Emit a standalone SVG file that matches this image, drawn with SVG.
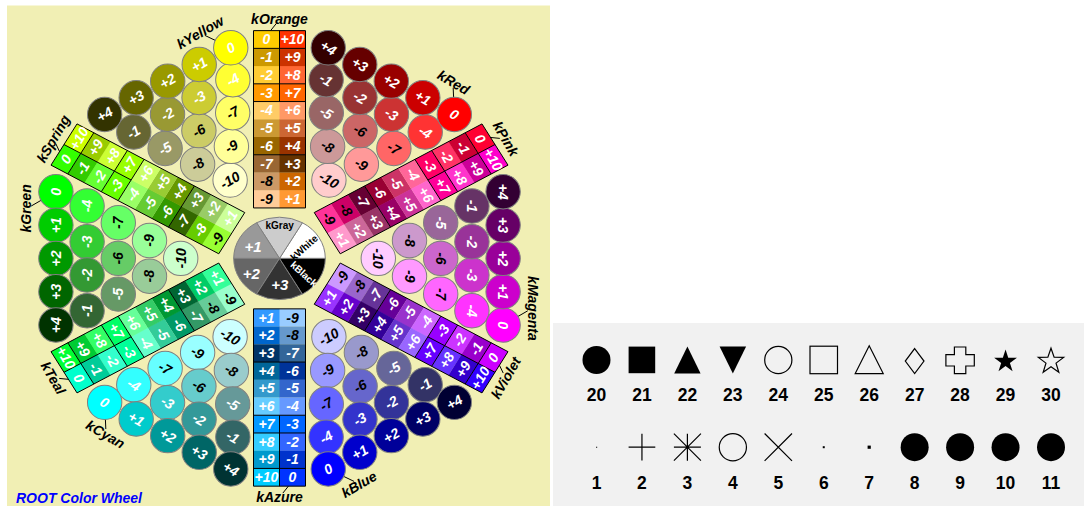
<svg xmlns="http://www.w3.org/2000/svg" width="1089" height="506" viewBox="0 0 1089 506">
<style>
.t{font-family:'Liberation Sans',Arial,Helvetica,sans-serif;font-weight:bold;font-style:italic;font-size:14px;text-anchor:middle;fill:#000}
text.w{fill:#fff}
.fam circle{stroke:#808080;stroke-width:1}
.ns{vector-effect:non-scaling-stroke;stroke:#000;stroke-width:1;fill:none}
.gs{stroke:#808080;stroke-width:1}
.gt{font-family:'Liberation Sans',Arial,sans-serif;font-weight:bold;font-size:10px;text-anchor:middle;fill:#000}
.lab{font-family:'Liberation Sans',Arial,sans-serif;font-weight:bold;font-size:17.5px;text-anchor:middle;fill:#000}
.mk{fill:none;stroke:#000;stroke-width:1.2}
</style>
<rect x="7" y="5.5" width="543" height="500.5" fill="#f1efb4"/>
<rect x="553" y="323" width="531" height="183" fill="#f1f1f1"/>

<g id="connectors">
<line class="ns" transform="translate(279.5,258.4) scale(26,23.8)" x1="8.6" y1="2.8" x2="9.55" y2="2.2"/>
<line class="ns" transform="translate(279.5,258.4) scale(26,23.8) rotate(30)" x1="9.57" y1="-.342" x2="9.86" y2="-.13"/>
<line class="ns" transform="translate(279.5,258.4) scale(26,23.8) rotate(60)" x1="8.6" y1="2.8" x2="9.55" y2="2.2"/>
<line class="ns" transform="translate(279.5,258.4) scale(26,23.8) rotate(90)" x1="9.57" y1="-.342" x2="9.86" y2="-.13"/>
<line class="ns" transform="translate(279.5,258.4) scale(26,23.8) rotate(120)" x1="8.6" y1="2.8" x2="9.55" y2="2.2"/>
<line class="ns" transform="translate(279.5,258.4) scale(26,23.8) rotate(150)" x1="9.57" y1="-.342" x2="9.86" y2="-.13"/>
<line class="ns" transform="translate(279.5,258.4) scale(26,23.8) rotate(180)" x1="8.6" y1="2.8" x2="9.55" y2="2.2"/>
<line class="ns" transform="translate(279.5,258.4) scale(26,23.8) rotate(-150)" x1="9.57" y1="-.342" x2="9.86" y2="-.13"/>
<line class="ns" transform="translate(279.5,258.4) scale(26,23.8) rotate(-120)" x1="8.6" y1="2.8" x2="9.55" y2="2.2"/>
<line class="ns" transform="translate(279.5,258.4) scale(26,23.8) rotate(-90)" x1="9.57" y1="-.342" x2="9.86" y2="-.13"/>
<line class="ns" transform="translate(279.5,258.4) scale(26,23.8) rotate(-60)" x1="8.6" y1="2.8" x2="9.55" y2="2.2"/>
<line class="ns" transform="translate(279.5,258.4) scale(26,23.8) rotate(-30)" x1="9.57" y1="-.342" x2="9.86" y2="-.13"/>
</g>

<g id="kGray" transform="translate(279.5,258.4)">
<path class="gs" d="M0,0L45.8,0A45.8,41.2 0 0 0 22.9,-35.68Z" fill="#ffffff"/>
<path class="gs" d="M0,0L22.9,-35.68A45.8,41.2 0 0 0 -22.9,-35.68Z" fill="#cccccc"/>
<path class="gs" d="M0,0L-22.9,-35.68A45.8,41.2 0 0 0 -45.8,0Z" fill="#999999"/>
<path class="gs" d="M0,0L-45.8,0A45.8,41.2 0 0 0 -22.9,35.68Z" fill="#666666"/>
<path class="gs" d="M0,0L-22.9,35.68A45.8,41.2 0 0 0 22.9,35.68Z" fill="#333333"/>
<path class="gs" d="M0,0L22.9,35.68A45.8,41.2 0 0 0 45.8,0Z" fill="#000000"/>
<text class="gt" x="0.2" y="-33.4" dy=".35em">kGray</text>
<text class="gt" transform="translate(24.5,-10.7) rotate(-42)" dy=".35em">kWhite</text>
<text class="gt" transform="translate(24.5,15.6) rotate(42)" dy=".35em" style="fill:#fff">kBlack</text>
<text class="t w" x="-26.5" y="-11.7" dy=".35em" style="font-size:15px">+1</text>
<text class="t w" x="-28.2" y="14.9" dy=".35em" style="font-size:15px">+2</text>
<text class="t w" x="0.2" y="26.6" dy=".35em" style="font-size:15px">+3</text>
</g>

<g id="kMagenta" class="fam" transform="translate(279.5,258.4) scale(26,23.8)">
<text class="t" transform="translate(9.75,2.1) scale(.038462,.042017) rotate(90)" dy=".35em">kMagenta</text>
<g transform="translate(3.8,0) scale(.038462,.042017)"><circle r="17.2" fill="#ffccff"/><text class="t" transform="rotate(90)" dy=".35em">-10</text></g>
<g transform="translate(5,.75) scale(.038462,.042017)"><circle r="17.2" fill="#ff99ff"/><text class="t" transform="rotate(90)" dy=".35em">-9</text></g>
<g transform="translate(5,-.75) scale(.038462,.042017)"><circle r="17.2" fill="#cc99cc"/><text class="t" transform="rotate(90)" dy=".35em">-8</text></g>
<g transform="translate(6.2,1.5) scale(.038462,.042017)"><circle r="17.2" fill="#ff66ff"/><text class="t" transform="rotate(90)" dy=".35em">-7</text></g>
<g transform="translate(6.2,0) scale(.038462,.042017)"><circle r="17.2" fill="#cc66cc"/><text class="t" transform="rotate(90)" dy=".35em">-6</text></g>
<g transform="translate(6.2,-1.5) scale(.038462,.042017)"><circle r="17.2" fill="#996699"/><text class="t w" transform="rotate(90)" dy=".35em">-5</text></g>
<g transform="translate(7.4,2.2) scale(.038462,.042017)"><circle r="17.2" fill="#ff33ff"/><text class="t w" transform="rotate(90)" dy=".35em">-4</text></g>
<g transform="translate(7.4,.7) scale(.038462,.042017)"><circle r="17.2" fill="#cc33cc"/><text class="t w" transform="rotate(90)" dy=".35em">-3</text></g>
<g transform="translate(7.4,-.7) scale(.038462,.042017)"><circle r="17.2" fill="#993399"/><text class="t w" transform="rotate(90)" dy=".35em">-2</text></g>
<g transform="translate(7.4,-2.2) scale(.038462,.042017)"><circle r="17.2" fill="#663366"/><text class="t w" transform="rotate(90)" dy=".35em">-1</text></g>
<g transform="translate(8.6,2.8) scale(.038462,.042017)"><circle r="17.2" fill="#ff00ff"/><text class="t w" transform="rotate(90)" dy=".35em">0</text></g>
<g transform="translate(8.6,1.4) scale(.038462,.042017)"><circle r="17.2" fill="#cc00cc"/><text class="t w" transform="rotate(90)" dy=".35em">+1</text></g>
<g transform="translate(8.6,0) scale(.038462,.042017)"><circle r="17.2" fill="#990099"/><text class="t w" transform="rotate(90)" dy=".35em">+2</text></g>
<g transform="translate(8.6,-1.4) scale(.038462,.042017)"><circle r="17.2" fill="#660066"/><text class="t w" transform="rotate(90)" dy=".35em">+3</text></g>
<g transform="translate(8.6,-2.8) scale(.038462,.042017)"><circle r="17.2" fill="#330033"/><text class="t w" transform="rotate(90)" dy=".35em">+4</text></g>
</g>

<g id="kViolet" class="fam" transform="translate(279.5,258.4) scale(26,23.8) rotate(30)">
<text class="t" transform="translate(10.05,0) rotate(-30) scale(.038462,.042017) rotate(-60)" dy=".35em">kViolet</text>
<rect x="2.12" y="-1" width=".75" height="1.02" fill="#cc99ff"/>
<rect x="2.865" y="-1" width=".75" height="1.02" fill="#9966cc"/>
<rect x="3.61" y="-1" width=".75" height="1.02" fill="#663399"/>
<rect x="4.355" y="-1" width=".75" height="1.02" fill="#660099"/>
<rect x="5.1" y="-1" width=".75" height="1.02" fill="#9933cc"/>
<rect x="5.845" y="-1" width=".75" height="1.02" fill="#cc66ff"/>
<rect x="6.59" y="-1" width=".75" height="1.02" fill="#9900ff"/>
<rect x="7.335" y="-1" width=".75" height="1.02" fill="#cc33ff"/>
<rect x="8.08" y="-1" width=".75" height="1.02" fill="#9900cc"/>
<rect x="8.825" y="-1" width=".745" height="1.02" fill="#cc00ff"/>
<rect x="2.12" y="0" width=".75" height="1" fill="#9933ff"/>
<rect x="2.865" y="0" width=".75" height="1" fill="#6600cc"/>
<rect x="3.61" y="0" width=".75" height="1" fill="#330066"/>
<rect x="4.355" y="0" width=".75" height="1" fill="#330099"/>
<rect x="5.1" y="0" width=".75" height="1" fill="#6633cc"/>
<rect x="5.845" y="0" width=".75" height="1" fill="#9966ff"/>
<rect x="6.59" y="0" width=".75" height="1" fill="#6600ff"/>
<rect x="7.335" y="0" width=".75" height="1" fill="#6633ff"/>
<rect x="8.08" y="0" width=".75" height="1" fill="#3300cc"/>
<rect x="8.825" y="0" width=".745" height="1" fill="#3300ff"/>
<path class="ns" d="M2.12,-1H9.57V1H2.12ZM4.355,-1V1M6.59,-1V1M7.335,-1V1M8.825,-1V1M6.59,0H9.57"/>
<text class="t" transform="translate(2.49,-.5) rotate(-30) scale(.038462,.042017) rotate(-60)" dy=".35em">-9</text>
<text class="t" transform="translate(3.24,-.5) rotate(-30) scale(.038462,.042017) rotate(-60)" dy=".35em">-8</text>
<text class="t w" transform="translate(3.98,-.5) rotate(-30) scale(.038462,.042017) rotate(-60)" dy=".35em">-7</text>
<text class="t w" transform="translate(4.73,-.5) rotate(-30) scale(.038462,.042017) rotate(-60)" dy=".35em">-6</text>
<text class="t w" transform="translate(5.47,-.5) rotate(-30) scale(.038462,.042017) rotate(-60)" dy=".35em">-5</text>
<text class="t w" transform="translate(6.22,-.5) rotate(-30) scale(.038462,.042017) rotate(-60)" dy=".35em">-4</text>
<text class="t w" transform="translate(6.96,-.5) rotate(-30) scale(.038462,.042017) rotate(-60)" dy=".35em">-3</text>
<text class="t w" transform="translate(7.71,-.5) rotate(-30) scale(.038462,.042017) rotate(-60)" dy=".35em">-2</text>
<text class="t w" transform="translate(8.45,-.5) rotate(-30) scale(.038462,.042017) rotate(-60)" dy=".35em">-1</text>
<text class="t w" transform="translate(9.2,-.5) rotate(-30) scale(.038462,.042017) rotate(-60)" dy=".35em">0</text>
<text class="t w" transform="translate(2.49,.5) rotate(-30) scale(.038462,.042017) rotate(-60)" dy=".35em">+1</text>
<text class="t w" transform="translate(3.24,.5) rotate(-30) scale(.038462,.042017) rotate(-60)" dy=".35em">+2</text>
<text class="t w" transform="translate(3.98,.5) rotate(-30) scale(.038462,.042017) rotate(-60)" dy=".35em">+3</text>
<text class="t w" transform="translate(4.73,.5) rotate(-30) scale(.038462,.042017) rotate(-60)" dy=".35em">+4</text>
<text class="t w" transform="translate(5.47,.5) rotate(-30) scale(.038462,.042017) rotate(-60)" dy=".35em">+5</text>
<text class="t w" transform="translate(6.22,.5) rotate(-30) scale(.038462,.042017) rotate(-60)" dy=".35em">+6</text>
<text class="t w" transform="translate(6.96,.5) rotate(-30) scale(.038462,.042017) rotate(-60)" dy=".35em">+7</text>
<text class="t w" transform="translate(7.71,.5) rotate(-30) scale(.038462,.042017) rotate(-60)" dy=".35em">+8</text>
<text class="t w" transform="translate(8.45,.5) rotate(-30) scale(.038462,.042017) rotate(-60)" dy=".35em">+9</text>
<text class="t w" transform="translate(9.2,.5) rotate(-30) scale(.038462,.042017) rotate(-60)" dy=".35em">+10</text>
</g>

<g id="kBlue" class="fam" transform="translate(279.5,258.4) scale(26,23.8) rotate(60)">
<text class="t" transform="translate(9.75,2.1) rotate(-60) scale(.038462,.042017) rotate(-30)" dy=".35em">kBlue</text>
<g transform="translate(3.8,0) rotate(-60) scale(.038462,.042017)"><circle r="17.2" fill="#ccccff"/><text class="t" transform="rotate(-30)" dy=".35em">-10</text></g>
<g transform="translate(5,.75) rotate(-60) scale(.038462,.042017)"><circle r="17.2" fill="#9999ff"/><text class="t" transform="rotate(-30)" dy=".35em">-9</text></g>
<g transform="translate(5,-.75) rotate(-60) scale(.038462,.042017)"><circle r="17.2" fill="#9999cc"/><text class="t" transform="rotate(-30)" dy=".35em">-8</text></g>
<g transform="translate(6.2,1.5) rotate(-60) scale(.038462,.042017)"><circle r="17.2" fill="#6666ff"/><text class="t" transform="rotate(-30)" dy=".35em">-7</text></g>
<g transform="translate(6.2,0) rotate(-60) scale(.038462,.042017)"><circle r="17.2" fill="#6666cc"/><text class="t" transform="rotate(-30)" dy=".35em">-6</text></g>
<g transform="translate(6.2,-1.5) rotate(-60) scale(.038462,.042017)"><circle r="17.2" fill="#666699"/><text class="t w" transform="rotate(-30)" dy=".35em">-5</text></g>
<g transform="translate(7.4,2.2) rotate(-60) scale(.038462,.042017)"><circle r="17.2" fill="#3333ff"/><text class="t w" transform="rotate(-30)" dy=".35em">-4</text></g>
<g transform="translate(7.4,.7) rotate(-60) scale(.038462,.042017)"><circle r="17.2" fill="#3333cc"/><text class="t w" transform="rotate(-30)" dy=".35em">-3</text></g>
<g transform="translate(7.4,-.7) rotate(-60) scale(.038462,.042017)"><circle r="17.2" fill="#333399"/><text class="t w" transform="rotate(-30)" dy=".35em">-2</text></g>
<g transform="translate(7.4,-2.2) rotate(-60) scale(.038462,.042017)"><circle r="17.2" fill="#333366"/><text class="t w" transform="rotate(-30)" dy=".35em">-1</text></g>
<g transform="translate(8.6,2.8) rotate(-60) scale(.038462,.042017)"><circle r="17.2" fill="#0000ff"/><text class="t w" transform="rotate(-30)" dy=".35em">0</text></g>
<g transform="translate(8.6,1.4) rotate(-60) scale(.038462,.042017)"><circle r="17.2" fill="#0000cc"/><text class="t w" transform="rotate(-30)" dy=".35em">+1</text></g>
<g transform="translate(8.6,0) rotate(-60) scale(.038462,.042017)"><circle r="17.2" fill="#000099"/><text class="t w" transform="rotate(-30)" dy=".35em">+2</text></g>
<g transform="translate(8.6,-1.4) rotate(-60) scale(.038462,.042017)"><circle r="17.2" fill="#000066"/><text class="t w" transform="rotate(-30)" dy=".35em">+3</text></g>
<g transform="translate(8.6,-2.8) rotate(-60) scale(.038462,.042017)"><circle r="17.2" fill="#000033"/><text class="t w" transform="rotate(-30)" dy=".35em">+4</text></g>
</g>

<g id="kAzure" class="fam" transform="translate(279.5,258.4) scale(26,23.8) rotate(90)">
<text class="t" transform="translate(10.05,0) rotate(-90) scale(.038462,.042017)" dy=".35em">kAzure</text>
<rect x="2.12" y="-1" width=".75" height="1.02" fill="#99ccff"/>
<rect x="2.865" y="-1" width=".75" height="1.02" fill="#6699cc"/>
<rect x="3.61" y="-1" width=".75" height="1.02" fill="#336699"/>
<rect x="4.355" y="-1" width=".75" height="1.02" fill="#003399"/>
<rect x="5.1" y="-1" width=".75" height="1.02" fill="#3366cc"/>
<rect x="5.845" y="-1" width=".75" height="1.02" fill="#6699ff"/>
<rect x="6.59" y="-1" width=".75" height="1.02" fill="#0066ff"/>
<rect x="7.335" y="-1" width=".75" height="1.02" fill="#3366ff"/>
<rect x="8.08" y="-1" width=".75" height="1.02" fill="#0033cc"/>
<rect x="8.825" y="-1" width=".745" height="1.02" fill="#0033ff"/>
<rect x="2.12" y="0" width=".75" height="1" fill="#3399ff"/>
<rect x="2.865" y="0" width=".75" height="1" fill="#0066cc"/>
<rect x="3.61" y="0" width=".75" height="1" fill="#003366"/>
<rect x="4.355" y="0" width=".75" height="1" fill="#006699"/>
<rect x="5.1" y="0" width=".75" height="1" fill="#3399cc"/>
<rect x="5.845" y="0" width=".75" height="1" fill="#66ccff"/>
<rect x="6.59" y="0" width=".75" height="1" fill="#0099ff"/>
<rect x="7.335" y="0" width=".75" height="1" fill="#33ccff"/>
<rect x="8.08" y="0" width=".75" height="1" fill="#0099cc"/>
<rect x="8.825" y="0" width=".745" height="1" fill="#00ccff"/>
<path class="ns" d="M2.12,-1H9.57V1H2.12ZM4.355,-1V1M6.59,-1V1M7.335,-1V1M8.825,-1V1M6.59,0H9.57"/>
<text class="t" transform="translate(2.49,-.5) rotate(-90) scale(.038462,.042017)" dy=".35em">-9</text>
<text class="t" transform="translate(3.24,-.5) rotate(-90) scale(.038462,.042017)" dy=".35em">-8</text>
<text class="t w" transform="translate(3.98,-.5) rotate(-90) scale(.038462,.042017)" dy=".35em">-7</text>
<text class="t w" transform="translate(4.73,-.5) rotate(-90) scale(.038462,.042017)" dy=".35em">-6</text>
<text class="t w" transform="translate(5.47,-.5) rotate(-90) scale(.038462,.042017)" dy=".35em">-5</text>
<text class="t w" transform="translate(6.22,-.5) rotate(-90) scale(.038462,.042017)" dy=".35em">-4</text>
<text class="t w" transform="translate(6.96,-.5) rotate(-90) scale(.038462,.042017)" dy=".35em">-3</text>
<text class="t w" transform="translate(7.71,-.5) rotate(-90) scale(.038462,.042017)" dy=".35em">-2</text>
<text class="t w" transform="translate(8.45,-.5) rotate(-90) scale(.038462,.042017)" dy=".35em">-1</text>
<text class="t w" transform="translate(9.2,-.5) rotate(-90) scale(.038462,.042017)" dy=".35em">0</text>
<text class="t w" transform="translate(2.49,.5) rotate(-90) scale(.038462,.042017)" dy=".35em">+1</text>
<text class="t w" transform="translate(3.24,.5) rotate(-90) scale(.038462,.042017)" dy=".35em">+2</text>
<text class="t w" transform="translate(3.98,.5) rotate(-90) scale(.038462,.042017)" dy=".35em">+3</text>
<text class="t w" transform="translate(4.73,.5) rotate(-90) scale(.038462,.042017)" dy=".35em">+4</text>
<text class="t w" transform="translate(5.47,.5) rotate(-90) scale(.038462,.042017)" dy=".35em">+5</text>
<text class="t w" transform="translate(6.22,.5) rotate(-90) scale(.038462,.042017)" dy=".35em">+6</text>
<text class="t w" transform="translate(6.96,.5) rotate(-90) scale(.038462,.042017)" dy=".35em">+7</text>
<text class="t w" transform="translate(7.71,.5) rotate(-90) scale(.038462,.042017)" dy=".35em">+8</text>
<text class="t w" transform="translate(8.45,.5) rotate(-90) scale(.038462,.042017)" dy=".35em">+9</text>
<text class="t w" transform="translate(9.2,.5) rotate(-90) scale(.038462,.042017)" dy=".35em">+10</text>
</g>

<g id="kCyan" class="fam" transform="translate(279.5,258.4) scale(26,23.8) rotate(120)">
<text class="t" transform="translate(9.75,2.1) rotate(-120) scale(.038462,.042017) rotate(30)" dy=".35em">kCyan</text>
<g transform="translate(3.8,0) rotate(-120) scale(.038462,.042017)"><circle r="17.2" fill="#ccffff"/><text class="t" transform="rotate(30)" dy=".35em">-10</text></g>
<g transform="translate(5,.75) rotate(-120) scale(.038462,.042017)"><circle r="17.2" fill="#99ffff"/><text class="t" transform="rotate(30)" dy=".35em">-9</text></g>
<g transform="translate(5,-.75) rotate(-120) scale(.038462,.042017)"><circle r="17.2" fill="#99cccc"/><text class="t" transform="rotate(30)" dy=".35em">-8</text></g>
<g transform="translate(6.2,1.5) rotate(-120) scale(.038462,.042017)"><circle r="17.2" fill="#66ffff"/><text class="t" transform="rotate(30)" dy=".35em">-7</text></g>
<g transform="translate(6.2,0) rotate(-120) scale(.038462,.042017)"><circle r="17.2" fill="#66cccc"/><text class="t" transform="rotate(30)" dy=".35em">-6</text></g>
<g transform="translate(6.2,-1.5) rotate(-120) scale(.038462,.042017)"><circle r="17.2" fill="#669999"/><text class="t w" transform="rotate(30)" dy=".35em">-5</text></g>
<g transform="translate(7.4,2.2) rotate(-120) scale(.038462,.042017)"><circle r="17.2" fill="#33ffff"/><text class="t w" transform="rotate(30)" dy=".35em">-4</text></g>
<g transform="translate(7.4,.7) rotate(-120) scale(.038462,.042017)"><circle r="17.2" fill="#33cccc"/><text class="t w" transform="rotate(30)" dy=".35em">-3</text></g>
<g transform="translate(7.4,-.7) rotate(-120) scale(.038462,.042017)"><circle r="17.2" fill="#339999"/><text class="t w" transform="rotate(30)" dy=".35em">-2</text></g>
<g transform="translate(7.4,-2.2) rotate(-120) scale(.038462,.042017)"><circle r="17.2" fill="#336666"/><text class="t w" transform="rotate(30)" dy=".35em">-1</text></g>
<g transform="translate(8.6,2.8) rotate(-120) scale(.038462,.042017)"><circle r="17.2" fill="#00ffff"/><text class="t w" transform="rotate(30)" dy=".35em">0</text></g>
<g transform="translate(8.6,1.4) rotate(-120) scale(.038462,.042017)"><circle r="17.2" fill="#00cccc"/><text class="t w" transform="rotate(30)" dy=".35em">+1</text></g>
<g transform="translate(8.6,0) rotate(-120) scale(.038462,.042017)"><circle r="17.2" fill="#009999"/><text class="t w" transform="rotate(30)" dy=".35em">+2</text></g>
<g transform="translate(8.6,-1.4) rotate(-120) scale(.038462,.042017)"><circle r="17.2" fill="#006666"/><text class="t w" transform="rotate(30)" dy=".35em">+3</text></g>
<g transform="translate(8.6,-2.8) rotate(-120) scale(.038462,.042017)"><circle r="17.2" fill="#003333"/><text class="t w" transform="rotate(30)" dy=".35em">+4</text></g>
</g>

<g id="kTeal" class="fam" transform="translate(279.5,258.4) scale(26,23.8) rotate(150)">
<text class="t" transform="translate(10.05,0) rotate(-150) scale(.038462,.042017) rotate(60)" dy=".35em">kTeal</text>
<rect x="2.12" y="-1" width=".75" height="1.02" fill="#99ffcc"/>
<rect x="2.865" y="-1" width=".75" height="1.02" fill="#66cc99"/>
<rect x="3.61" y="-1" width=".75" height="1.02" fill="#339966"/>
<rect x="4.355" y="-1" width=".75" height="1.02" fill="#009966"/>
<rect x="5.1" y="-1" width=".75" height="1.02" fill="#33cc99"/>
<rect x="5.845" y="-1" width=".75" height="1.02" fill="#66ffcc"/>
<rect x="6.59" y="-1" width=".75" height="1.02" fill="#00ff99"/>
<rect x="7.335" y="-1" width=".75" height="1.02" fill="#33ffcc"/>
<rect x="8.08" y="-1" width=".75" height="1.02" fill="#00cc99"/>
<rect x="8.825" y="-1" width=".745" height="1.02" fill="#00ffcc"/>
<rect x="2.12" y="0" width=".75" height="1" fill="#33ff99"/>
<rect x="2.865" y="0" width=".75" height="1" fill="#00cc66"/>
<rect x="3.61" y="0" width=".75" height="1" fill="#006633"/>
<rect x="4.355" y="0" width=".75" height="1" fill="#009933"/>
<rect x="5.1" y="0" width=".75" height="1" fill="#33cc66"/>
<rect x="5.845" y="0" width=".75" height="1" fill="#66ff99"/>
<rect x="6.59" y="0" width=".75" height="1" fill="#00ff66"/>
<rect x="7.335" y="0" width=".75" height="1" fill="#33ff66"/>
<rect x="8.08" y="0" width=".75" height="1" fill="#00cc33"/>
<rect x="8.825" y="0" width=".745" height="1" fill="#00ff33"/>
<path class="ns" d="M2.12,-1H9.57V1H2.12ZM4.355,-1V1M6.59,-1V1M7.335,-1V1M8.825,-1V1M6.59,0H9.57"/>
<text class="t" transform="translate(2.49,-.5) rotate(-150) scale(.038462,.042017) rotate(60)" dy=".35em">-9</text>
<text class="t" transform="translate(3.24,-.5) rotate(-150) scale(.038462,.042017) rotate(60)" dy=".35em">-8</text>
<text class="t w" transform="translate(3.98,-.5) rotate(-150) scale(.038462,.042017) rotate(60)" dy=".35em">-7</text>
<text class="t w" transform="translate(4.73,-.5) rotate(-150) scale(.038462,.042017) rotate(60)" dy=".35em">-6</text>
<text class="t w" transform="translate(5.47,-.5) rotate(-150) scale(.038462,.042017) rotate(60)" dy=".35em">-5</text>
<text class="t w" transform="translate(6.22,-.5) rotate(-150) scale(.038462,.042017) rotate(60)" dy=".35em">-4</text>
<text class="t w" transform="translate(6.96,-.5) rotate(-150) scale(.038462,.042017) rotate(60)" dy=".35em">-3</text>
<text class="t w" transform="translate(7.71,-.5) rotate(-150) scale(.038462,.042017) rotate(60)" dy=".35em">-2</text>
<text class="t w" transform="translate(8.45,-.5) rotate(-150) scale(.038462,.042017) rotate(60)" dy=".35em">-1</text>
<text class="t w" transform="translate(9.2,-.5) rotate(-150) scale(.038462,.042017) rotate(60)" dy=".35em">0</text>
<text class="t w" transform="translate(2.49,.5) rotate(-150) scale(.038462,.042017) rotate(60)" dy=".35em">+1</text>
<text class="t w" transform="translate(3.24,.5) rotate(-150) scale(.038462,.042017) rotate(60)" dy=".35em">+2</text>
<text class="t w" transform="translate(3.98,.5) rotate(-150) scale(.038462,.042017) rotate(60)" dy=".35em">+3</text>
<text class="t w" transform="translate(4.73,.5) rotate(-150) scale(.038462,.042017) rotate(60)" dy=".35em">+4</text>
<text class="t w" transform="translate(5.47,.5) rotate(-150) scale(.038462,.042017) rotate(60)" dy=".35em">+5</text>
<text class="t w" transform="translate(6.22,.5) rotate(-150) scale(.038462,.042017) rotate(60)" dy=".35em">+6</text>
<text class="t w" transform="translate(6.96,.5) rotate(-150) scale(.038462,.042017) rotate(60)" dy=".35em">+7</text>
<text class="t w" transform="translate(7.71,.5) rotate(-150) scale(.038462,.042017) rotate(60)" dy=".35em">+8</text>
<text class="t w" transform="translate(8.45,.5) rotate(-150) scale(.038462,.042017) rotate(60)" dy=".35em">+9</text>
<text class="t w" transform="translate(9.2,.5) rotate(-150) scale(.038462,.042017) rotate(60)" dy=".35em">+10</text>
</g>

<g id="kGreen" class="fam" transform="translate(279.5,258.4) scale(26,23.8) rotate(180)">
<text class="t" transform="translate(9.75,2.1) rotate(180) scale(.038462,.042017) rotate(-90)" dy=".35em">kGreen</text>
<g transform="translate(3.8,0) rotate(180) scale(.038462,.042017)"><circle r="17.2" fill="#ccffcc"/><text class="t" transform="rotate(-90)" dy=".35em">-10</text></g>
<g transform="translate(5,.75) rotate(180) scale(.038462,.042017)"><circle r="17.2" fill="#99ff99"/><text class="t" transform="rotate(-90)" dy=".35em">-9</text></g>
<g transform="translate(5,-.75) rotate(180) scale(.038462,.042017)"><circle r="17.2" fill="#99cc99"/><text class="t" transform="rotate(-90)" dy=".35em">-8</text></g>
<g transform="translate(6.2,1.5) rotate(180) scale(.038462,.042017)"><circle r="17.2" fill="#66ff66"/><text class="t" transform="rotate(-90)" dy=".35em">-7</text></g>
<g transform="translate(6.2,0) rotate(180) scale(.038462,.042017)"><circle r="17.2" fill="#66cc66"/><text class="t" transform="rotate(-90)" dy=".35em">-6</text></g>
<g transform="translate(6.2,-1.5) rotate(180) scale(.038462,.042017)"><circle r="17.2" fill="#669966"/><text class="t w" transform="rotate(-90)" dy=".35em">-5</text></g>
<g transform="translate(7.4,2.2) rotate(180) scale(.038462,.042017)"><circle r="17.2" fill="#33ff33"/><text class="t w" transform="rotate(-90)" dy=".35em">-4</text></g>
<g transform="translate(7.4,.7) rotate(180) scale(.038462,.042017)"><circle r="17.2" fill="#33cc33"/><text class="t w" transform="rotate(-90)" dy=".35em">-3</text></g>
<g transform="translate(7.4,-.7) rotate(180) scale(.038462,.042017)"><circle r="17.2" fill="#339933"/><text class="t w" transform="rotate(-90)" dy=".35em">-2</text></g>
<g transform="translate(7.4,-2.2) rotate(180) scale(.038462,.042017)"><circle r="17.2" fill="#336633"/><text class="t w" transform="rotate(-90)" dy=".35em">-1</text></g>
<g transform="translate(8.6,2.8) rotate(180) scale(.038462,.042017)"><circle r="17.2" fill="#00ff00"/><text class="t w" transform="rotate(-90)" dy=".35em">0</text></g>
<g transform="translate(8.6,1.4) rotate(180) scale(.038462,.042017)"><circle r="17.2" fill="#00cc00"/><text class="t w" transform="rotate(-90)" dy=".35em">+1</text></g>
<g transform="translate(8.6,0) rotate(180) scale(.038462,.042017)"><circle r="17.2" fill="#009900"/><text class="t w" transform="rotate(-90)" dy=".35em">+2</text></g>
<g transform="translate(8.6,-1.4) rotate(180) scale(.038462,.042017)"><circle r="17.2" fill="#006600"/><text class="t w" transform="rotate(-90)" dy=".35em">+3</text></g>
<g transform="translate(8.6,-2.8) rotate(180) scale(.038462,.042017)"><circle r="17.2" fill="#003300"/><text class="t w" transform="rotate(-90)" dy=".35em">+4</text></g>
</g>

<g id="kSpring" class="fam" transform="translate(279.5,258.4) scale(26,23.8) rotate(-150)">
<text class="t" transform="translate(10.05,0) rotate(150) scale(.038462,.042017) rotate(-60)" dy=".35em">kSpring</text>
<rect x="2.12" y="-1" width=".75" height="1.02" fill="#99ff33"/>
<rect x="2.865" y="-1" width=".75" height="1.02" fill="#66cc00"/>
<rect x="3.61" y="-1" width=".75" height="1.02" fill="#336600"/>
<rect x="4.355" y="-1" width=".75" height="1.02" fill="#339900"/>
<rect x="5.1" y="-1" width=".75" height="1.02" fill="#66cc33"/>
<rect x="5.845" y="-1" width=".75" height="1.02" fill="#99ff66"/>
<rect x="6.59" y="-1" width=".75" height="1.02" fill="#66ff00"/>
<rect x="7.335" y="-1" width=".75" height="1.02" fill="#66ff33"/>
<rect x="8.08" y="-1" width=".75" height="1.02" fill="#33cc00"/>
<rect x="8.825" y="-1" width=".745" height="1.02" fill="#33ff00"/>
<rect x="2.12" y="0" width=".75" height="1" fill="#ccff99"/>
<rect x="2.865" y="0" width=".75" height="1" fill="#99cc66"/>
<rect x="3.61" y="0" width=".75" height="1" fill="#669933"/>
<rect x="4.355" y="0" width=".75" height="1" fill="#669900"/>
<rect x="5.1" y="0" width=".75" height="1" fill="#99cc33"/>
<rect x="5.845" y="0" width=".75" height="1" fill="#ccff66"/>
<rect x="6.59" y="0" width=".75" height="1" fill="#99ff00"/>
<rect x="7.335" y="0" width=".75" height="1" fill="#ccff33"/>
<rect x="8.08" y="0" width=".75" height="1" fill="#99cc00"/>
<rect x="8.825" y="0" width=".745" height="1" fill="#ccff00"/>
<path class="ns" d="M2.12,-1H9.57V1H2.12ZM4.355,-1V1M6.59,-1V1M7.335,-1V1M8.825,-1V1M6.59,0H9.57"/>
<text class="t" transform="translate(2.49,-.5) rotate(150) scale(.038462,.042017) rotate(-60)" dy=".35em">-9</text>
<text class="t w" transform="translate(3.24,-.5) rotate(150) scale(.038462,.042017) rotate(-60)" dy=".35em">-8</text>
<text class="t w" transform="translate(3.98,-.5) rotate(150) scale(.038462,.042017) rotate(-60)" dy=".35em">-7</text>
<text class="t w" transform="translate(4.73,-.5) rotate(150) scale(.038462,.042017) rotate(-60)" dy=".35em">-6</text>
<text class="t w" transform="translate(5.47,-.5) rotate(150) scale(.038462,.042017) rotate(-60)" dy=".35em">-5</text>
<text class="t w" transform="translate(6.22,-.5) rotate(150) scale(.038462,.042017) rotate(-60)" dy=".35em">-4</text>
<text class="t w" transform="translate(6.96,-.5) rotate(150) scale(.038462,.042017) rotate(-60)" dy=".35em">-3</text>
<text class="t w" transform="translate(7.71,-.5) rotate(150) scale(.038462,.042017) rotate(-60)" dy=".35em">-2</text>
<text class="t w" transform="translate(8.45,-.5) rotate(150) scale(.038462,.042017) rotate(-60)" dy=".35em">-1</text>
<text class="t w" transform="translate(9.2,-.5) rotate(150) scale(.038462,.042017) rotate(-60)" dy=".35em">0</text>
<text class="t w" transform="translate(2.49,.5) rotate(150) scale(.038462,.042017) rotate(-60)" dy=".35em">+1</text>
<text class="t w" transform="translate(3.24,.5) rotate(150) scale(.038462,.042017) rotate(-60)" dy=".35em">+2</text>
<text class="t w" transform="translate(3.98,.5) rotate(150) scale(.038462,.042017) rotate(-60)" dy=".35em">+3</text>
<text class="t w" transform="translate(4.73,.5) rotate(150) scale(.038462,.042017) rotate(-60)" dy=".35em">+4</text>
<text class="t w" transform="translate(5.47,.5) rotate(150) scale(.038462,.042017) rotate(-60)" dy=".35em">+5</text>
<text class="t w" transform="translate(6.22,.5) rotate(150) scale(.038462,.042017) rotate(-60)" dy=".35em">+6</text>
<text class="t w" transform="translate(6.96,.5) rotate(150) scale(.038462,.042017) rotate(-60)" dy=".35em">+7</text>
<text class="t w" transform="translate(7.71,.5) rotate(150) scale(.038462,.042017) rotate(-60)" dy=".35em">+8</text>
<text class="t w" transform="translate(8.45,.5) rotate(150) scale(.038462,.042017) rotate(-60)" dy=".35em">+9</text>
<text class="t w" transform="translate(9.2,.5) rotate(150) scale(.038462,.042017) rotate(-60)" dy=".35em">+10</text>
</g>

<g id="kYellow" class="fam" transform="translate(279.5,258.4) scale(26,23.8) rotate(-120)">
<text class="t" transform="translate(9.75,2.1) rotate(120) scale(.038462,.042017) rotate(-30)" dy=".35em">kYellow</text>
<g transform="translate(3.8,0) rotate(120) scale(.038462,.042017)"><circle r="17.2" fill="#ffffcc"/><text class="t" transform="rotate(-30)" dy=".35em">-10</text></g>
<g transform="translate(5,.75) rotate(120) scale(.038462,.042017)"><circle r="17.2" fill="#ffff99"/><text class="t" transform="rotate(-30)" dy=".35em">-9</text></g>
<g transform="translate(5,-.75) rotate(120) scale(.038462,.042017)"><circle r="17.2" fill="#cccc99"/><text class="t" transform="rotate(-30)" dy=".35em">-8</text></g>
<g transform="translate(6.2,1.5) rotate(120) scale(.038462,.042017)"><circle r="17.2" fill="#ffff66"/><text class="t" transform="rotate(-30)" dy=".35em">-7</text></g>
<g transform="translate(6.2,0) rotate(120) scale(.038462,.042017)"><circle r="17.2" fill="#cccc66"/><text class="t" transform="rotate(-30)" dy=".35em">-6</text></g>
<g transform="translate(6.2,-1.5) rotate(120) scale(.038462,.042017)"><circle r="17.2" fill="#999966"/><text class="t w" transform="rotate(-30)" dy=".35em">-5</text></g>
<g transform="translate(7.4,2.2) rotate(120) scale(.038462,.042017)"><circle r="17.2" fill="#ffff33"/><text class="t w" transform="rotate(-30)" dy=".35em">-4</text></g>
<g transform="translate(7.4,.7) rotate(120) scale(.038462,.042017)"><circle r="17.2" fill="#cccc33"/><text class="t w" transform="rotate(-30)" dy=".35em">-3</text></g>
<g transform="translate(7.4,-.7) rotate(120) scale(.038462,.042017)"><circle r="17.2" fill="#999933"/><text class="t w" transform="rotate(-30)" dy=".35em">-2</text></g>
<g transform="translate(7.4,-2.2) rotate(120) scale(.038462,.042017)"><circle r="17.2" fill="#666633"/><text class="t w" transform="rotate(-30)" dy=".35em">-1</text></g>
<g transform="translate(8.6,2.8) rotate(120) scale(.038462,.042017)"><circle r="17.2" fill="#ffff00"/><text class="t w" transform="rotate(-30)" dy=".35em">0</text></g>
<g transform="translate(8.6,1.4) rotate(120) scale(.038462,.042017)"><circle r="17.2" fill="#cccc00"/><text class="t w" transform="rotate(-30)" dy=".35em">+1</text></g>
<g transform="translate(8.6,0) rotate(120) scale(.038462,.042017)"><circle r="17.2" fill="#999900"/><text class="t w" transform="rotate(-30)" dy=".35em">+2</text></g>
<g transform="translate(8.6,-1.4) rotate(120) scale(.038462,.042017)"><circle r="17.2" fill="#666600"/><text class="t w" transform="rotate(-30)" dy=".35em">+3</text></g>
<g transform="translate(8.6,-2.8) rotate(120) scale(.038462,.042017)"><circle r="17.2" fill="#333300"/><text class="t w" transform="rotate(-30)" dy=".35em">+4</text></g>
</g>

<g id="kOrange" class="fam" transform="translate(279.5,258.4) scale(26,23.8) rotate(-90)">
<text class="t" transform="translate(10.05,0) rotate(90) scale(.038462,.042017)" dy=".35em">kOrange</text>
<rect x="2.12" y="-1" width=".75" height="1.02" fill="#ffcc99"/>
<rect x="2.865" y="-1" width=".75" height="1.02" fill="#cc9966"/>
<rect x="3.61" y="-1" width=".75" height="1.02" fill="#996633"/>
<rect x="4.355" y="-1" width=".75" height="1.02" fill="#996600"/>
<rect x="5.1" y="-1" width=".75" height="1.02" fill="#cc9933"/>
<rect x="5.845" y="-1" width=".75" height="1.02" fill="#ffcc66"/>
<rect x="6.59" y="-1" width=".75" height="1.02" fill="#ff9900"/>
<rect x="7.335" y="-1" width=".75" height="1.02" fill="#ffcc33"/>
<rect x="8.08" y="-1" width=".75" height="1.02" fill="#cc9900"/>
<rect x="8.825" y="-1" width=".745" height="1.02" fill="#ffcc00"/>
<rect x="2.12" y="0" width=".75" height="1" fill="#ff9933"/>
<rect x="2.865" y="0" width=".75" height="1" fill="#cc6600"/>
<rect x="3.61" y="0" width=".75" height="1" fill="#663300"/>
<rect x="4.355" y="0" width=".75" height="1" fill="#993300"/>
<rect x="5.1" y="0" width=".75" height="1" fill="#cc6633"/>
<rect x="5.845" y="0" width=".75" height="1" fill="#ff9966"/>
<rect x="6.59" y="0" width=".75" height="1" fill="#ff6600"/>
<rect x="7.335" y="0" width=".75" height="1" fill="#ff6633"/>
<rect x="8.08" y="0" width=".75" height="1" fill="#cc3300"/>
<rect x="8.825" y="0" width=".745" height="1" fill="#ff3300"/>
<path class="ns" d="M2.12,-1H9.57V1H2.12ZM4.355,-1V1M6.59,-1V1M7.335,-1V1M8.825,-1V1M6.59,0H9.57"/>
<text class="t" transform="translate(2.49,-.5) rotate(90) scale(.038462,.042017)" dy=".35em">-9</text>
<text class="t" transform="translate(3.24,-.5) rotate(90) scale(.038462,.042017)" dy=".35em">-8</text>
<text class="t w" transform="translate(3.98,-.5) rotate(90) scale(.038462,.042017)" dy=".35em">-7</text>
<text class="t w" transform="translate(4.73,-.5) rotate(90) scale(.038462,.042017)" dy=".35em">-6</text>
<text class="t w" transform="translate(5.47,-.5) rotate(90) scale(.038462,.042017)" dy=".35em">-5</text>
<text class="t w" transform="translate(6.22,-.5) rotate(90) scale(.038462,.042017)" dy=".35em">-4</text>
<text class="t w" transform="translate(6.96,-.5) rotate(90) scale(.038462,.042017)" dy=".35em">-3</text>
<text class="t w" transform="translate(7.71,-.5) rotate(90) scale(.038462,.042017)" dy=".35em">-2</text>
<text class="t w" transform="translate(8.45,-.5) rotate(90) scale(.038462,.042017)" dy=".35em">-1</text>
<text class="t w" transform="translate(9.2,-.5) rotate(90) scale(.038462,.042017)" dy=".35em">0</text>
<text class="t w" transform="translate(2.49,.5) rotate(90) scale(.038462,.042017)" dy=".35em">+1</text>
<text class="t w" transform="translate(3.24,.5) rotate(90) scale(.038462,.042017)" dy=".35em">+2</text>
<text class="t w" transform="translate(3.98,.5) rotate(90) scale(.038462,.042017)" dy=".35em">+3</text>
<text class="t w" transform="translate(4.73,.5) rotate(90) scale(.038462,.042017)" dy=".35em">+4</text>
<text class="t w" transform="translate(5.47,.5) rotate(90) scale(.038462,.042017)" dy=".35em">+5</text>
<text class="t w" transform="translate(6.22,.5) rotate(90) scale(.038462,.042017)" dy=".35em">+6</text>
<text class="t w" transform="translate(6.96,.5) rotate(90) scale(.038462,.042017)" dy=".35em">+7</text>
<text class="t w" transform="translate(7.71,.5) rotate(90) scale(.038462,.042017)" dy=".35em">+8</text>
<text class="t w" transform="translate(8.45,.5) rotate(90) scale(.038462,.042017)" dy=".35em">+9</text>
<text class="t w" transform="translate(9.2,.5) rotate(90) scale(.038462,.042017)" dy=".35em">+10</text>
</g>

<g id="kRed" class="fam" transform="translate(279.5,258.4) scale(26,23.8) rotate(-60)">
<text class="t" transform="translate(9.75,2.1) rotate(60) scale(.038462,.042017) rotate(30)" dy=".35em">kRed</text>
<g transform="translate(3.8,0) rotate(60) scale(.038462,.042017)"><circle r="17.2" fill="#ffcccc"/><text class="t" transform="rotate(30)" dy=".35em">-10</text></g>
<g transform="translate(5,.75) rotate(60) scale(.038462,.042017)"><circle r="17.2" fill="#ff9999"/><text class="t" transform="rotate(30)" dy=".35em">-9</text></g>
<g transform="translate(5,-.75) rotate(60) scale(.038462,.042017)"><circle r="17.2" fill="#cc9999"/><text class="t" transform="rotate(30)" dy=".35em">-8</text></g>
<g transform="translate(6.2,1.5) rotate(60) scale(.038462,.042017)"><circle r="17.2" fill="#ff6666"/><text class="t" transform="rotate(30)" dy=".35em">-7</text></g>
<g transform="translate(6.2,0) rotate(60) scale(.038462,.042017)"><circle r="17.2" fill="#cc6666"/><text class="t" transform="rotate(30)" dy=".35em">-6</text></g>
<g transform="translate(6.2,-1.5) rotate(60) scale(.038462,.042017)"><circle r="17.2" fill="#996666"/><text class="t w" transform="rotate(30)" dy=".35em">-5</text></g>
<g transform="translate(7.4,2.2) rotate(60) scale(.038462,.042017)"><circle r="17.2" fill="#ff3333"/><text class="t w" transform="rotate(30)" dy=".35em">-4</text></g>
<g transform="translate(7.4,.7) rotate(60) scale(.038462,.042017)"><circle r="17.2" fill="#cc3333"/><text class="t w" transform="rotate(30)" dy=".35em">-3</text></g>
<g transform="translate(7.4,-.7) rotate(60) scale(.038462,.042017)"><circle r="17.2" fill="#993333"/><text class="t w" transform="rotate(30)" dy=".35em">-2</text></g>
<g transform="translate(7.4,-2.2) rotate(60) scale(.038462,.042017)"><circle r="17.2" fill="#663333"/><text class="t w" transform="rotate(30)" dy=".35em">-1</text></g>
<g transform="translate(8.6,2.8) rotate(60) scale(.038462,.042017)"><circle r="17.2" fill="#ff0000"/><text class="t w" transform="rotate(30)" dy=".35em">0</text></g>
<g transform="translate(8.6,1.4) rotate(60) scale(.038462,.042017)"><circle r="17.2" fill="#cc0000"/><text class="t w" transform="rotate(30)" dy=".35em">+1</text></g>
<g transform="translate(8.6,0) rotate(60) scale(.038462,.042017)"><circle r="17.2" fill="#990000"/><text class="t w" transform="rotate(30)" dy=".35em">+2</text></g>
<g transform="translate(8.6,-1.4) rotate(60) scale(.038462,.042017)"><circle r="17.2" fill="#660000"/><text class="t w" transform="rotate(30)" dy=".35em">+3</text></g>
<g transform="translate(8.6,-2.8) rotate(60) scale(.038462,.042017)"><circle r="17.2" fill="#330000"/><text class="t w" transform="rotate(30)" dy=".35em">+4</text></g>
</g>

<g id="kPink" class="fam" transform="translate(279.5,258.4) scale(26,23.8) rotate(-30)">
<text class="t" transform="translate(10.05,0) rotate(30) scale(.038462,.042017) rotate(60)" dy=".35em">kPink</text>
<rect x="2.12" y="-1" width=".75" height="1.02" fill="#ff3399"/>
<rect x="2.865" y="-1" width=".75" height="1.02" fill="#cc0066"/>
<rect x="3.61" y="-1" width=".75" height="1.02" fill="#660033"/>
<rect x="4.355" y="-1" width=".75" height="1.02" fill="#990033"/>
<rect x="5.1" y="-1" width=".75" height="1.02" fill="#cc3366"/>
<rect x="5.845" y="-1" width=".75" height="1.02" fill="#ff6699"/>
<rect x="6.59" y="-1" width=".75" height="1.02" fill="#ff0066"/>
<rect x="7.335" y="-1" width=".75" height="1.02" fill="#ff3366"/>
<rect x="8.08" y="-1" width=".75" height="1.02" fill="#cc0033"/>
<rect x="8.825" y="-1" width=".745" height="1.02" fill="#ff0033"/>
<rect x="2.12" y="0" width=".75" height="1" fill="#ff99cc"/>
<rect x="2.865" y="0" width=".75" height="1" fill="#cc6699"/>
<rect x="3.61" y="0" width=".75" height="1" fill="#993366"/>
<rect x="4.355" y="0" width=".75" height="1" fill="#990066"/>
<rect x="5.1" y="0" width=".75" height="1" fill="#cc3399"/>
<rect x="5.845" y="0" width=".75" height="1" fill="#ff66cc"/>
<rect x="6.59" y="0" width=".75" height="1" fill="#ff0099"/>
<rect x="7.335" y="0" width=".75" height="1" fill="#ff33cc"/>
<rect x="8.08" y="0" width=".75" height="1" fill="#cc0099"/>
<rect x="8.825" y="0" width=".745" height="1" fill="#ff00cc"/>
<path class="ns" d="M2.12,-1H9.57V1H2.12ZM4.355,-1V1M6.59,-1V1M7.335,-1V1M8.825,-1V1M6.59,0H9.57"/>
<text class="t" transform="translate(2.49,-.5) rotate(30) scale(.038462,.042017) rotate(60)" dy=".35em">-9</text>
<text class="t" transform="translate(3.24,-.5) rotate(30) scale(.038462,.042017) rotate(60)" dy=".35em">-8</text>
<text class="t w" transform="translate(3.98,-.5) rotate(30) scale(.038462,.042017) rotate(60)" dy=".35em">-7</text>
<text class="t w" transform="translate(4.73,-.5) rotate(30) scale(.038462,.042017) rotate(60)" dy=".35em">-6</text>
<text class="t w" transform="translate(5.47,-.5) rotate(30) scale(.038462,.042017) rotate(60)" dy=".35em">-5</text>
<text class="t w" transform="translate(6.22,-.5) rotate(30) scale(.038462,.042017) rotate(60)" dy=".35em">-4</text>
<text class="t w" transform="translate(6.96,-.5) rotate(30) scale(.038462,.042017) rotate(60)" dy=".35em">-3</text>
<text class="t w" transform="translate(7.71,-.5) rotate(30) scale(.038462,.042017) rotate(60)" dy=".35em">-2</text>
<text class="t w" transform="translate(8.45,-.5) rotate(30) scale(.038462,.042017) rotate(60)" dy=".35em">-1</text>
<text class="t w" transform="translate(9.2,-.5) rotate(30) scale(.038462,.042017) rotate(60)" dy=".35em">0</text>
<text class="t w" transform="translate(2.49,.5) rotate(30) scale(.038462,.042017) rotate(60)" dy=".35em">+1</text>
<text class="t w" transform="translate(3.24,.5) rotate(30) scale(.038462,.042017) rotate(60)" dy=".35em">+2</text>
<text class="t w" transform="translate(3.98,.5) rotate(30) scale(.038462,.042017) rotate(60)" dy=".35em">+3</text>
<text class="t w" transform="translate(4.73,.5) rotate(30) scale(.038462,.042017) rotate(60)" dy=".35em">+4</text>
<text class="t w" transform="translate(5.47,.5) rotate(30) scale(.038462,.042017) rotate(60)" dy=".35em">+5</text>
<text class="t w" transform="translate(6.22,.5) rotate(30) scale(.038462,.042017) rotate(60)" dy=".35em">+6</text>
<text class="t w" transform="translate(6.96,.5) rotate(30) scale(.038462,.042017) rotate(60)" dy=".35em">+7</text>
<text class="t w" transform="translate(7.71,.5) rotate(30) scale(.038462,.042017) rotate(60)" dy=".35em">+8</text>
<text class="t w" transform="translate(8.45,.5) rotate(30) scale(.038462,.042017) rotate(60)" dy=".35em">+9</text>
<text class="t w" transform="translate(9.2,.5) rotate(30) scale(.038462,.042017) rotate(60)" dy=".35em">+10</text>
</g>

<text id="title" x="16" y="503" class="t" style="text-anchor:start;fill:#0000ff">ROOT Color Wheel</text>

<g id="markers">
<g id="m20"><circle cx="596.5" cy="360" r="14" fill="#000"/><text class="lab" x="596.5" y="401.2">20</text></g>
<g id="m21"><rect x="628.6" y="346.6" width="26.6" height="26.6" fill="#000"/><text class="lab" x="641.95" y="401.2">21</text></g>
<g id="m22"><polygon points="687.4,346.4 700.6,373.4 674.2,373.4" fill="#000"/><text class="lab" x="687.4" y="401.2">22</text></g>
<g id="m23"><polygon points="719.6,346.4 746.1,346.4 732.85,373.4" fill="#000"/><text class="lab" x="732.85" y="401.2">23</text></g>
<g id="m24"><circle class="mk" cx="778.3" cy="360" r="13.6"/><text class="lab" x="778.3" y="401.2">24</text></g>
<g id="m25"><rect class="mk" x="810" y="346.2" width="27.5" height="27.5"/><text class="lab" x="823.75" y="401.2">25</text></g>
<g id="m26"><polygon class="mk" points="869.2,345.8 883.2,373.6 855.2,373.6"/><text class="lab" x="869.2" y="401.2">26</text></g>
<g id="m27"><polygon class="mk" points="914.65,348.6 924,361.1 914.65,373.6 905.3,361.1"/><text class="lab" x="914.65" y="401.2">27</text></g>
<g id="m28"><path class="mk" d="M954.4,347H965.8V354.7H974.3V366H965.8V373.6H954.4V366H945.9V354.7H954.4Z"/><text class="lab" x="960.1" y="401.2">28</text></g>
<g id="m29"><polygon transform="translate(1005.55,361.5)" points="0,-12 2.7,-3.72 11.41,-3.71 4.37,1.42 7.05,9.71 0,4.6 -7.05,9.71 -4.37,1.42 -11.41,-3.71 -2.7,-3.72" fill="#000"/><text class="lab" x="1005.55" y="401.2">29</text></g>
<g id="m30"><polygon class="mk" transform="translate(1051,361.5)" points="0,-13.3 3.12,-4.29 12.65,-4.11 5.04,1.64 7.82,10.76 0,5.3 -7.82,10.76 -5.04,1.64 -12.65,-4.11 -3.12,-4.29"/><text class="lab" x="1051" y="401.2">30</text></g>

<g id="m1"><rect x="596" y="446.7" width="1.2" height="1.2" fill="#333"/><text class="lab" x="596.5" y="488.6">1</text></g>
<g id="m2"><path class="mk" d="M628.6,447.2H655.3M641.95,433.8V460.6"/><text class="lab" x="641.95" y="488.6">2</text></g>
<g id="m3"><path class="mk" d="M673.9,447.2H700.9M687.4,433.7V460.7M673.9,433.7L700.9,460.7M673.9,460.7L700.9,433.7"/><text class="lab" x="687.4" y="488.6">3</text></g>
<g id="m4"><circle class="mk" cx="732.85" cy="447.2" r="13.6"/><text class="lab" x="732.85" y="488.6">4</text></g>
<g id="m5"><path class="mk" d="M764.6,433.5L792,460.9M764.6,460.9L792,433.5"/><text class="lab" x="778.3" y="488.6">5</text></g>
<g id="m6"><rect x="822.75" y="446.2" width="2" height="2" fill="#000"/><text class="lab" x="823.75" y="488.6">6</text></g>
<g id="m7"><rect x="867.6" y="445.6" width="3.2" height="3.2" fill="#000"/><text class="lab" x="869.2" y="488.6">7</text></g>
<g id="m8"><circle cx="914.65" cy="447.2" r="14" fill="#000"/><text class="lab" x="914.65" y="488.6">8</text></g>
<g id="m9"><circle cx="960.1" cy="447.2" r="14" fill="#000"/><text class="lab" x="960.1" y="488.6">9</text></g>
<g id="m10"><circle cx="1005.55" cy="447.2" r="14" fill="#000"/><text class="lab" x="1005.55" y="488.6">10</text></g>
<g id="m11"><circle cx="1051" cy="447.2" r="14" fill="#000"/><text class="lab" x="1051" y="488.6">11</text></g>
</g>
</svg>
